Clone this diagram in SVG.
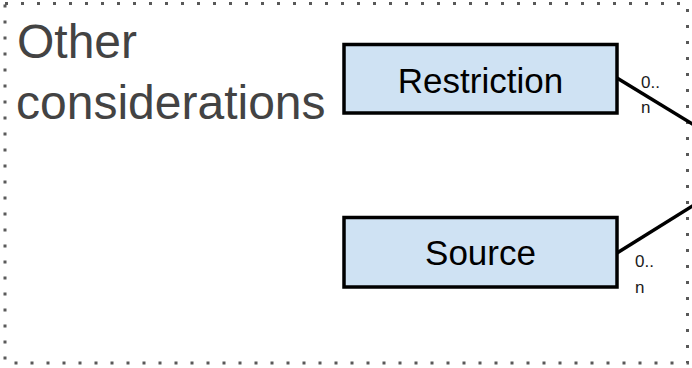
<svg xmlns="http://www.w3.org/2000/svg" width="692" height="368" viewBox="0 0 692 368">
  <style>
    .frame { fill: none; stroke: #595959; stroke-width: 3; stroke-dasharray: 3 13; }
    .title { font-family: "Liberation Sans", Arial, sans-serif; font-size: 48px; fill: #434343; }
    .box { fill: #cfe2f3; stroke: #000; stroke-width: 3.5; }
    .label { font-family: "Liberation Sans", Arial, sans-serif; font-size: 35px; fill: #000; text-anchor: middle; }
    .mult { font-family: "Liberation Sans", Arial, sans-serif; font-size: 17px; fill: #1a1a1a; }
    .conn { stroke: #000; stroke-width: 3.5; fill: none; }
  </style>
  <rect id="frame" class="frame" x="5" y="3.5" width="682.5" height="359.5"/>
  <g id="title">
    <text class="title" x="17" y="58">Other</text>
    <text class="title" x="16" y="119">considerations</text>
  </g>
  <g id="connectors">
    <line class="conn" x1="617" y1="78" x2="694" y2="125"/>
    <line class="conn" x1="617" y1="253" x2="694" y2="205"/>
    <text class="mult" x="641" y="88">0..</text>
    <text class="mult" x="641" y="113">n</text>
    <text class="mult" x="635" y="267">0..</text>
    <text class="mult" x="635" y="293">n</text>
  </g>
  <g id="restriction">
    <rect class="box" x="344" y="44.5" width="273" height="68.5"/>
    <text class="label" x="480.5" y="92.5">Restriction</text>
  </g>
  <g id="source">
    <rect class="box" x="344" y="217.5" width="273" height="69.5"/>
    <text class="label" x="480.5" y="265">Source</text>
  </g>
</svg>
